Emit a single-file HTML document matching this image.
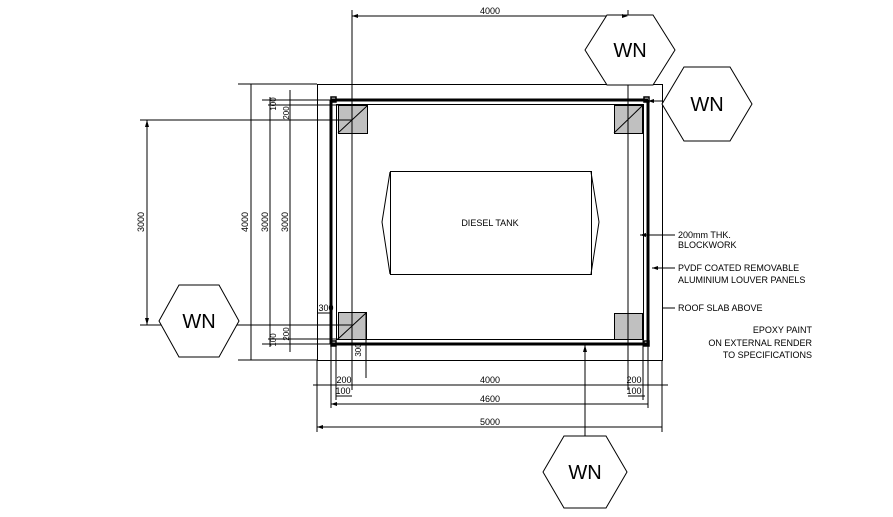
<!DOCTYPE html>
<html><head><meta charset="utf-8"><style>
html,body{margin:0;padding:0;background:#fff;}
svg{display:block;font-family:"Liberation Sans",sans-serif;}
</style></head><body>
<svg width="893" height="517" viewBox="0 0 893 517" xmlns="http://www.w3.org/2000/svg">
<g stroke="#000" fill="none" stroke-width="1">
<!-- outer rect 5000 -->
<rect x="317.5" y="84.5" width="345" height="276"/>
<!-- walls -->
<line x1="331" y1="100" x2="648" y2="100" stroke-width="3"/>
<line x1="336" y1="104.5" x2="643" y2="104.5"/>
<line x1="331" y1="344" x2="648" y2="344" stroke-width="3"/>
<line x1="336" y1="339.5" x2="643" y2="339.5"/>
<line x1="331" y1="100" x2="331" y2="344" stroke-width="3"/>
<line x1="336.5" y1="104" x2="336.5" y2="340"/>
<line x1="648" y1="100" x2="648" y2="344" stroke-width="3"/>
<line x1="643.5" y1="104" x2="643.5" y2="340"/>
<rect x="331" y="97" width="5" height="5" stroke-width="1.5"/>
<rect x="644" y="97" width="5" height="5" stroke-width="1.5"/>
<rect x="331" y="341" width="5" height="5" stroke-width="1.5"/>
<rect x="644" y="341" width="5" height="5" stroke-width="1.5"/>
<!-- piers -->
<rect x="338.5" y="105.5" width="29" height="28" fill="#c0c0c0"/>
<line x1="338" y1="133" x2="367" y2="106"/>
<rect x="614.5" y="105.5" width="28" height="28" fill="#c0c0c0"/>
<line x1="614" y1="133" x2="642" y2="106"/>
<rect x="338.5" y="312.5" width="28" height="27" fill="#c0c0c0"/>
<line x1="338" y1="339" x2="366" y2="313"/>
<rect x="614.5" y="313.5" width="28" height="26" fill="#c0c0c0"/>
<!-- tank -->
<rect x="390.5" y="171.5" width="201" height="103"/>
<polyline points="390,172 382,222 390,274"/>
<polyline points="591,172 599,222 591,274"/>
<!-- top dim 4000 -->
<line x1="352" y1="16" x2="628" y2="16"/>
<line x1="352" y1="10" x2="352" y2="130"/>
<line x1="628" y1="10" x2="628" y2="130"/>
<!-- left dims -->
<line x1="147" y1="120" x2="147" y2="325"/>
<line x1="251" y1="84" x2="251" y2="360"/>
<line x1="270" y1="97" x2="270" y2="347"/>
<line x1="290" y1="90" x2="290" y2="352"/>
<line x1="238" y1="84" x2="317" y2="84"/>
<line x1="262" y1="100" x2="331" y2="100"/>
<line x1="268" y1="105" x2="338" y2="105"/>
<line x1="140" y1="120" x2="352" y2="120"/>
<line x1="140" y1="325" x2="352" y2="325"/>
<line x1="268" y1="339" x2="338" y2="339"/>
<line x1="262" y1="344" x2="331" y2="344"/>
<line x1="238" y1="360" x2="317" y2="360"/>
<line x1="318" y1="313" x2="331" y2="313"/>
<!-- bottom dims -->
<line x1="313" y1="385" x2="668" y2="385"/>
<line x1="336" y1="396" x2="352" y2="396"/>
<line x1="628" y1="396" x2="645" y2="396"/>
<line x1="331" y1="404" x2="648" y2="404"/>
<line x1="317" y1="427" x2="662" y2="427"/>
<line x1="317" y1="360" x2="317" y2="432"/>
<line x1="662" y1="360" x2="662" y2="432"/>
<line x1="331" y1="344" x2="331" y2="408"/>
<line x1="648" y1="344" x2="648" y2="408"/>
<line x1="336" y1="340" x2="336" y2="400"/>
<line x1="643" y1="340" x2="643" y2="400"/>
<line x1="352" y1="130" x2="352" y2="390"/>
<line x1="628" y1="130" x2="628" y2="390"/>
<line x1="366" y1="313" x2="366" y2="378"/>
<line x1="585" y1="345" x2="585" y2="436"/>
<!-- notes leaders -->
<line x1="640" y1="235" x2="675" y2="235"/>
<line x1="652" y1="268" x2="675" y2="268"/>
<line x1="662" y1="308" x2="675" y2="308"/>
<!-- leader to right WN -->
<line x1="648" y1="101" x2="662" y2="101"/>
<!-- hexagons -->
<polygon points="585,50 607,15 653,15 675,50 653,85 607,85" fill="#fff"/>
<polygon points="662,104 684,67 730,67 752,104 730,141 684,141" fill="#fff"/>
<polygon points="159,321 179,285 219,285 239,321 219,357 179,357" fill="#fff"/>
<polygon points="543,472 564,436 606,436 627,472 606,508 564,508" fill="#fff"/>
</g>
<g fill="#000">
<polygon points="352,16 358,14 358,18"/><polygon points="628,16 622,14 622,18"/>
<polygon points="147,120 145,127 149,127"/><polygon points="147,325 145,318 149,318"/>
<polygon points="585,345 583,352 587,352"/>
<polygon points="640,235 646,233 646,237"/><polygon points="652,268 658,266 658,270"/>
<polygon points="317,427 323,425 323,429"/><polygon points="331,404 337,402 337,406"/>
<polygon points="648,101 654,99 654,103"/>
</g>
<g font-size="9" fill="#000">
<text x="490" y="14" text-anchor="middle">4000</text>
<text x="490" y="226" text-anchor="middle">DIESEL TANK</text>
<text x="490" y="383" text-anchor="middle">4000</text>
<text x="490" y="402" text-anchor="middle">4600</text>
<text x="490" y="425" text-anchor="middle">5000</text>
<text x="344" y="383" text-anchor="middle">200</text>
<text x="343" y="394" text-anchor="middle">100</text>
<text x="634" y="383" text-anchor="middle">200</text>
<text x="634" y="394" text-anchor="middle">100</text>
<text x="326" y="311" text-anchor="middle">300</text>
<text transform="translate(144,222) rotate(-90)" text-anchor="middle">3000</text>
<text transform="translate(248,222) rotate(-90)" text-anchor="middle">4000</text>
<text transform="translate(268,222) rotate(-90)" text-anchor="middle">3000</text>
<text transform="translate(288,222) rotate(-90)" text-anchor="middle">3000</text>
<text transform="translate(276,104) rotate(-90)" text-anchor="middle" font-size="8">100</text>
<text transform="translate(289,113) rotate(-90)" text-anchor="middle" font-size="8">200</text>
<text transform="translate(276,340) rotate(-90)" text-anchor="middle" font-size="8">100</text>
<text transform="translate(289,334) rotate(-90)" text-anchor="middle" font-size="8">200</text>
<text transform="translate(361,350) rotate(-90)" text-anchor="middle" font-size="8">300</text>
<text x="678" y="238">200mm THK.</text>
<text x="678" y="248">BLOCKWORK</text>
<text x="678" y="271">PVDF COATED REMOVABLE</text>
<text x="678" y="283">ALUMINIUM LOUVER PANELS</text>
<text x="678" y="311">ROOF SLAB ABOVE</text>
<text x="812" y="333" text-anchor="end">EPOXY PAINT</text>
<text x="812" y="346" text-anchor="end">ON EXTERNAL RENDER</text>
<text x="812" y="358" text-anchor="end">TO SPECIFICATIONS</text>
</g>
<g font-size="20" fill="#000" text-anchor="middle">
<text x="630" y="57">WN</text>
<text x="707" y="111">WN</text>
<text x="199" y="328">WN</text>
<text x="585" y="479">WN</text>
</g>
</svg>
</body></html>
